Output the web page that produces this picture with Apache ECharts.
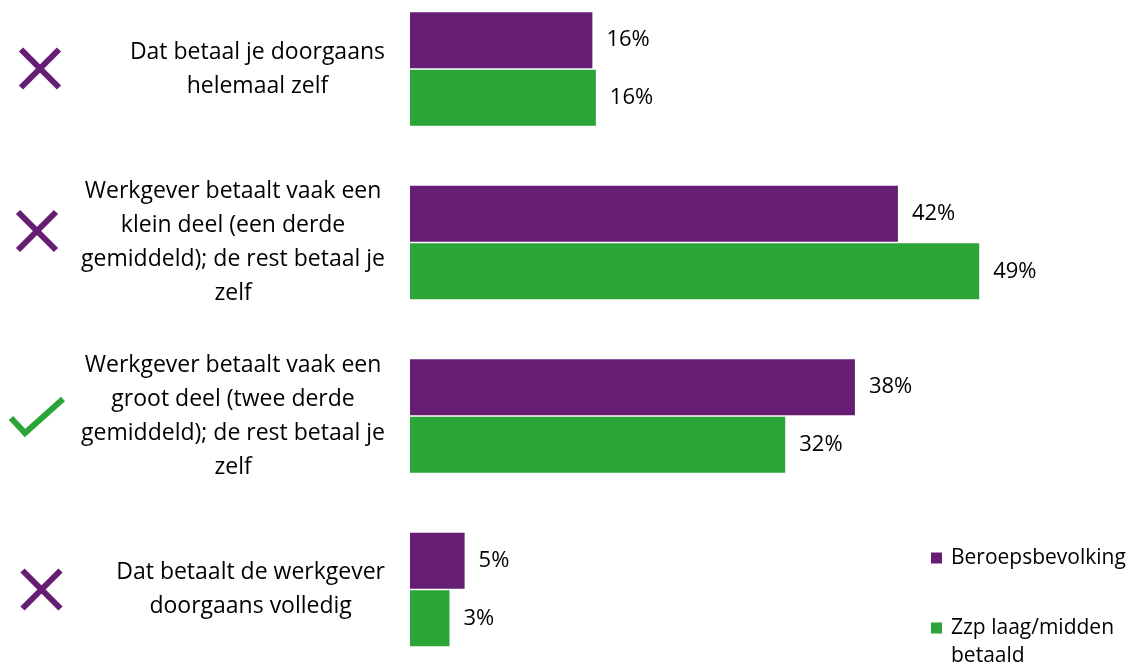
<!DOCTYPE html>
<html>
<head>
<meta charset="utf-8">
<script src="https://cdn.jsdelivr.net/npm/echarts@6/dist/echarts.min.js"></script>
<style>
html,body{margin:0;padding:0;background:#fff;}
#chart{width:1139px;height:671px;}
</style>
</head>
<body>
<div id="chart"></div>
<script>
const categories = [
  'Dat betaal je doorgaans\nhelemaal zelf',
  'Werkgever betaalt vaak een\nklein deel (een derde\ngemiddeld); de rest betaal je\nzelf',
  'Werkgever betaalt vaak een\ngroot deel (twee derde\ngemiddeld); de rest betaal je\nzelf',
  'Dat betaalt de werkgever\ndoorgaans volledig'
];
const seriesNames = ['Beroepsbevolking', 'Zzp laag/midden\nbetaald'];
const beroepsbevolking = [15.7, 42.0, 38.3, 4.7];
const zzpLaagMidden = [16.0, 49.0, 32.3, 3.4];

const PURPLE = '#661D74';
const GREEN = '#2BA537';
const FONT = 'Open Sans';

const chart = echarts.init(document.getElementById('chart'));

function xMark(cx, cy) {
  const h = 19;
  return {
    type: 'group',
    children: [
      {type: 'line', shape: {x1: cx - h, y1: cy - h, x2: cx + h, y2: cy + h}, style: {stroke: PURPLE, lineWidth: 6}},
      {type: 'line', shape: {x1: cx - h, y1: cy + h, x2: cx + h, y2: cy - h}, style: {stroke: PURPLE, lineWidth: 6}}
    ]
  };
}

const labelStyle = {
  show: true, position: 'right', distance: 14,
  fontSize: 22, color: '#000', fontFamily: FONT,
  formatter: function (p) { return Math.round(p.value) + '%'; }
};

const option = {
  animation: false,
  backgroundColor: '#fff',
  textStyle: {fontFamily: FONT},
  grid: {left: 410, right: 32, top: 69, bottom: 81.5, containLabel: false},
  xAxis: {type: 'value', min: 0, max: 60, show: false},
  yAxis: {
    type: 'category',
    data: categories,
    inverse: true,
    boundaryGap: false,
    axisLine: {show: false},
    axisTick: {show: false},
    splitLine: {show: false},
    axisLabel: {
      align: 'right',
      margin: 25,
      formatter: function (v) {
        return v.split('\n').map(function (l) { return '{c|' + l + '}'; }).join('\n');
      },
      rich: {
        c: {align: 'center', fontSize: 23, lineHeight: 34, color: '#000', fontFamily: FONT}
      }
    }
  },
  legend: {
    orient: 'vertical',
    left: 931,
    top: 544,
    height: 300,
    padding: 0,
    itemWidth: 11,
    itemHeight: 11,
    itemGap: 14,
    icon: 'rect',
    textStyle: {fontSize: 21, lineHeight: 28, color: '#000', fontFamily: FONT, padding: [0, 0, 0, 4]},
    formatter: function (name) {
      return name.indexOf('\n') >= 0 ? ' \n' + name : name;
    },
    data: seriesNames
  },
  series: [
    {
      name: seriesNames[0],
      type: 'bar',
      data: beroepsbevolking,
      barWidth: 56,
      barGap: '3%',
      itemStyle: {color: PURPLE},
      label: labelStyle
    },
    {
      name: seriesNames[1],
      type: 'bar',
      data: zzpLaagMidden,
      barWidth: 56,
      barGap: '3%',
      itemStyle: {color: GREEN},
      label: labelStyle
    }
  ],
  graphic: [
    xMark(40, 68.5),
    xMark(37, 231),
    {
      type: 'polyline',
      shape: {points: [[11, 418], [25, 433], [63, 399]]},
      style: {stroke: GREEN, lineWidth: 6, fill: null}
    },
    xMark(41.5, 589.5)
  ]
};

chart.setOption(option);
</script>
</body>
</html>
